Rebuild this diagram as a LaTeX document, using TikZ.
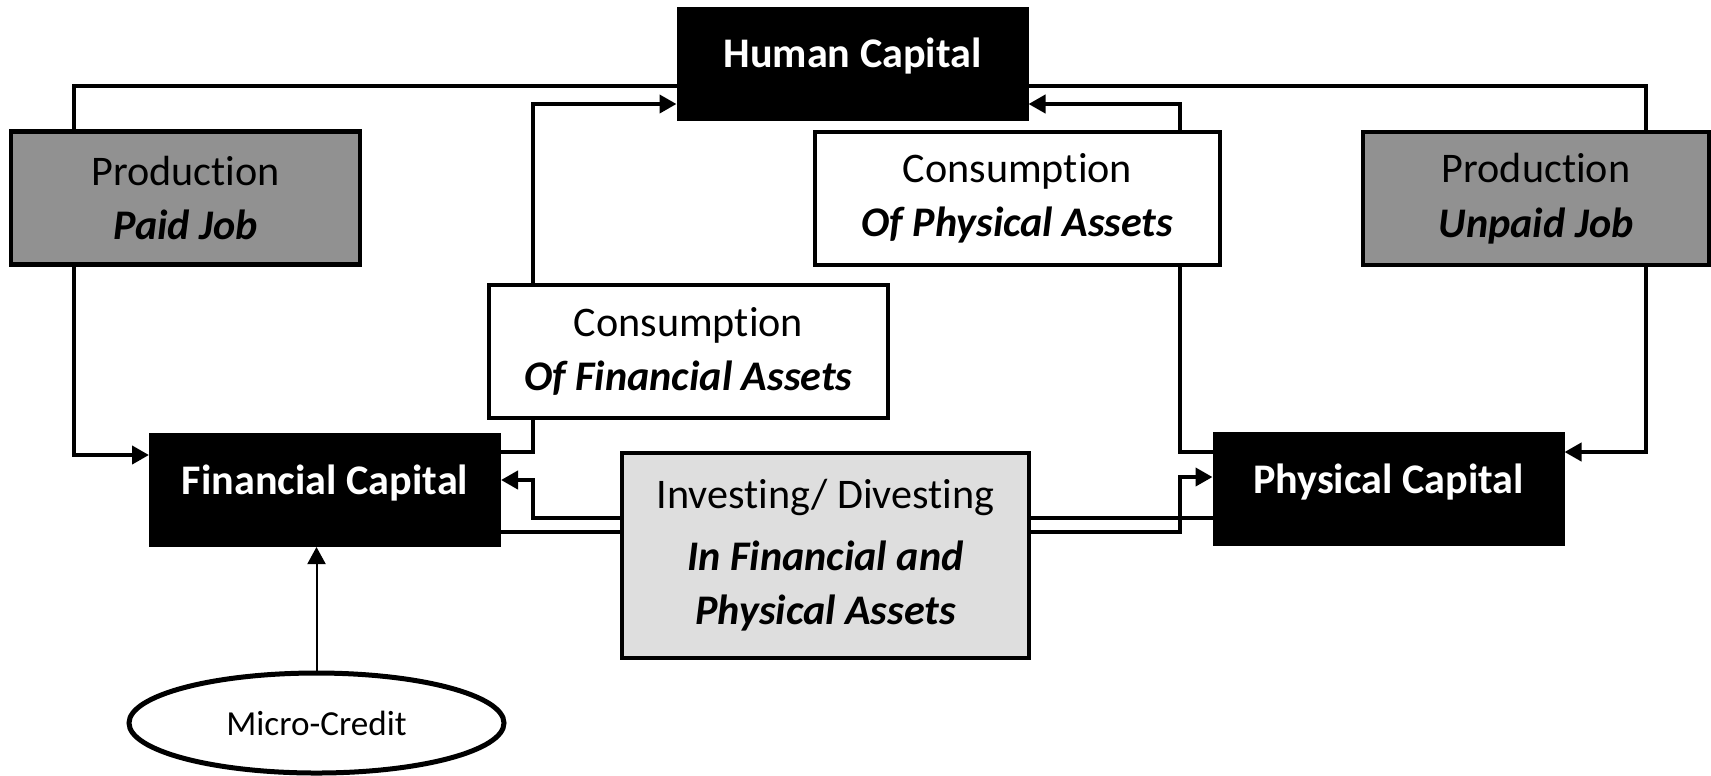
\documentclass[tikz,border=0pt]{standalone}
\usepackage{fontspec}
\setmainfont{Carlito}[Ligatures=NoCommon]
\usetikzlibrary{arrows.meta,shapes.geometric}
\definecolor{prodgray}{gray}{0.57}
\definecolor{investgray}{gray}{0.87}
\newcommand\boxfont{\fontsize{12}{15.5}\selectfont}

\begin{document}
\begin{tikzpicture}[x=0.1mm,y=-0.1mm,
  >={Triangle[length=1.7mm,width=1.8mm]},
  capital box/.style={draw,fill=black,text=white,font=\boxfont\bfseries,line width=0.4mm,
    minimum width=34.8mm,inner sep=0pt,text height=5.9mm,text depth=5.1mm,name=#1},
  activity box/.style={draw,fill=#1,line width=0.45mm,align=center,inner sep=0pt,
    font=\boxfont,minimum height=13.3mm},
  activity box/.default=white,
  flow line/.style={line width=0.4mm},
  credit line/.style={line width=0.2mm}]

\useasboundingbox (0,0) rectangle (1711,775);

\node [capital box=human] at (852.5,63.5) {Human Capital};
\node [capital box=fin] at (325,490) {Financial Capital};
\node [capital box=phys] at (1388.5,489) {Physical Capital};

\node [activity box=prodgray,minimum width=34.9mm] (paid) at (185.5,198) {Production\\\textbf{\textit{Paid Job}}};
\node [activity box=prodgray,minimum width=34.6mm] (unpaid) at (1536,198.5) {Production\\\textbf{\textit{Unpaid Job}}};
\node [activity box,minimum width=40.5mm] (consP) at (1017.5,198.5) {Consumption\\\textbf{\textit{Of Physical Assets}}};
\node [activity box,minimum width=39.9mm] (consF) at (688.5,351.5) {Consumption\\\textbf{\textit{Of Financial Assets}}};
\node [activity box=investgray,minimum width=40.7mm,minimum height=20.5mm] (invest) at (825.5,555.5)
  {Investing/ Divesting\\[2pt]\textbf{\textit{In Financial and}}\\\textbf{\textit{Physical Assets}}};

\node [draw,ellipse,line width=0.5mm,minimum width=37.5mm,minimum height=10mm,
  font=\fontsize{10}{12}\selectfont] (micro) at (316.5,723) {Micro-Credit};

\draw[flow line] (paid.north -| 74,0) |- (human.west |- 0,86);
\draw[flow line,->] (paid.south -| 74,0) |- (fin.west |- 0,455);
\draw[flow line] (human.east |- 0,86) -| (unpaid.north -| 1646,0);
\draw[flow line,->] (unpaid.south -| 1646,0) |- (phys.east |- 0,452);

\draw[flow line] (fin.east |- 0,452) -| (consF.south -| 533,0);
\draw[flow line,->] (consF.north -| 533,0) |- (human.west |- 0,104);
\draw[flow line] (phys.west |- 0,452) -| (consP.south -| 1180,0);
\draw[flow line,->] (consP.north -| 1180,0) |- (human.east |- 0,104);

\draw[flow line,->] (invest.west |- 0,518) -| (533,480) -- (fin.east |- 0,480);
\draw[flow line] (fin.east |- 0,532) -- (invest.west |- 0,532);
\draw[flow line] (phys.west |- 0,518) -- (invest.east |- 0,518);
\draw[flow line,->] (invest.east |- 0,532) -| (1180,477) -- (phys.west |- 0,477);

\draw[credit line,->] (micro.north) -- (fin.south -| micro.north);
\end{tikzpicture}
\end{document}
